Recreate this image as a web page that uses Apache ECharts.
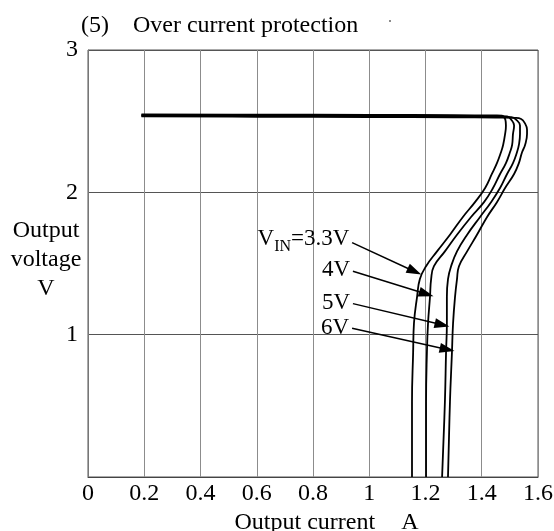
<!DOCTYPE html>
<html>
<head>
<meta charset="utf-8">
<script src="https://cdn.jsdelivr.net/npm/echarts@6/dist/echarts.min.js"></script>
<style>html,body{margin:0;padding:0;background:#fff}#c{width:554px;height:531px}</style>
</head>
<body>
<div id="c"></div>
<script>
const FONT = '"Liberation Serif","Times New Roman",serif';

// Output current (A) / output voltage (V) for each input voltage
const vin33Current = [0.19, 0.60, 1.00, 1.30, 1.45, 1.472, 1.484, 1.486, 1.483, 1.476, 1.468, 1.454, 1.436, 1.412, 1.376, 1.333, 1.287, 1.241, 1.202, 1.180, 1.170, 1.159, 1.156, 1.152, 1.152];
const vin33Voltage = [2.548, 2.546, 2.544, 2.542, 2.540, 2.538, 2.51, 2.47, 2.409, 2.333, 2.28, 2.205, 2.129, 2.03, 1.931, 1.827, 1.702, 1.585, 1.481, 1.391, 1.266, 1.08, 0.873, 0.529, 0];

const vin4Current = [0.19, 0.60, 1.00, 1.30, 1.45, 1.49, 1.505, 1.515, 1.511, 1.508, 1.500, 1.486, 1.465, 1.440, 1.408, 1.362, 1.312, 1.269, 1.230, 1.220, 1.216, 1.209, 1.205, 1.202, 1.202];
const vin4Voltage = [2.543, 2.541, 2.539, 2.537, 2.535, 2.533, 2.51, 2.47, 2.409, 2.333, 2.28, 2.205, 2.129, 2.03, 1.931, 1.827, 1.702, 1.585, 1.481, 1.391, 1.266, 1.08, 0.873, 0.529, 0];

const vin5Current = [0.19, 0.60, 1.00, 1.30, 1.45, 1.505, 1.525, 1.536, 1.536, 1.532, 1.525, 1.511, 1.490, 1.465, 1.433, 1.394, 1.348, 1.312, 1.291, 1.280, 1.276, 1.276, 1.273, 1.269, 1.259];
const vin5Voltage = [2.538, 2.536, 2.534, 2.532, 2.530, 2.528, 2.505, 2.47, 2.409, 2.333, 2.28, 2.205, 2.129, 2.03, 1.931, 1.827, 1.702, 1.585, 1.481, 1.391, 1.266, 1.08, 0.873, 0.529, 0];

const vin6Current = [0.19, 0.60, 1.00, 1.30, 1.45, 1.52, 1.54, 1.552, 1.561, 1.561, 1.554, 1.543, 1.532, 1.515, 1.483, 1.454, 1.419, 1.383, 1.348, 1.319, 1.312, 1.305, 1.298, 1.294, 1.287, 1.280];
const vin6Voltage = [2.533, 2.531, 2.529, 2.527, 2.525, 2.523, 2.515, 2.49, 2.44, 2.409, 2.333, 2.28, 2.205, 2.129, 2.03, 1.931, 1.827, 1.702, 1.585, 1.481, 1.391, 1.266, 1.08, 0.873, 0.529, 0];

// Annotation arrows (data units)
const arrowLabels = ['{v|V}{sub|IN}{v|=3.3V}', '4V', '5V', '6V'];
const arrowStartCurrent = [0.939, 0.942, 0.942, 0.939];
const arrowStartVoltage = [1.647, 1.446, 1.218, 1.045];
const arrowEndCurrent = [1.161, 1.203, 1.259, 1.277];
const arrowEndVoltage = [1.444, 1.286, 1.069, 0.896];

const zip = (xs, ys) => xs.map((x, i) => [x, ys[i]]);
const curves = [
  zip(vin33Current, vin33Voltage),
  zip(vin4Current, vin4Voltage),
  zip(vin5Current, vin5Voltage),
  zip(vin6Current, vin6Voltage)
];
const seriesNames = ['3.3V', '4V', '5V', '6V'];

const arrowData = arrowLabels.map((t, i) => [
  { coord: [arrowStartCurrent[i], arrowStartVoltage[i]], label: { formatter: t } },
  { coord: [arrowEndCurrent[i], arrowEndVoltage[i]] }
]);

const series = curves.map((d, i) => ({
  name: seriesNames[i],
  type: 'line',
  data: d,
  showSymbol: false,
  smooth: 0.45,
  lineStyle: { color: '#000', width: 1.8 },
  itemStyle: { color: '#000' },
  silent: true
}));
series[0].markLine = {
  silent: true,
  symbol: ['none', 'path://M5,0L10,15L0,15Z'],
  symbolSize: 15,
  symbolKeepAspect: true,
  lineStyle: { color: '#000', width: 1.5, type: 'solid' },
  itemStyle: { color: '#000' },
  label: {
    show: true,
    position: 'start',
    distance: 3,
    color: '#000',
    fontFamily: FONT,
    fontSize: 23,
    rich: {
      v: { fontFamily: FONT, fontSize: 23, color: '#000', lineHeight: 27, verticalAlign: 'top' },
      sub: { fontFamily: FONT, fontSize: 16, color: '#000', lineHeight: 27, verticalAlign: 'bottom' }
    }
  },
  emphasis: { disabled: true },
  data: arrowData
};

const chart = echarts.init(document.getElementById('c'), null, { renderer: 'canvas' });
chart.setOption({
  animation: false,
  backgroundColor: '#fff',
  title: {
    text: '{a|(5)}{b|Over current protection}',
    left: 76,
    top: 9,
    textStyle: {
      fontWeight: 'normal',
      rich: {
        a: { fontFamily: FONT, fontSize: 24, fontWeight: 'normal', color: '#000', padding: [0, 24, 0, 0] },
        b: { fontFamily: FONT, fontSize: 24, fontWeight: 'normal', color: '#000' }
      }
    }
  },
  grid: { left: 88, right: 16, top: 50, bottom: 54, outerBoundsMode: 'none', containLabel: false, show: true, borderColor: '#555', borderWidth: 1 },
  xAxis: {
    type: 'value',
    min: 0, max: 1.6, interval: 0.2,
    name: '{a|Output current}{b|A}',
    nameLocation: 'middle',
    nameGap: 33,
    nameTextStyle: {
      padding: [0, 0, 0, 27],
      rich: {
        a: { fontFamily: FONT, fontSize: 24, color: '#000' },
        b: { fontFamily: FONT, fontSize: 24, color: '#000', padding: [0, 0, 0, 26] }
      }
    },
    axisLine: { show: true, lineStyle: { color: '#444', width: 1 } },
    axisTick: { show: false },
    axisLabel: { color: '#000', fontFamily: FONT, fontSize: 24, margin: 5 },
    splitLine: { show: true, lineStyle: { color: '#8c8c8c', width: 1 } }
  },
  yAxis: {
    type: 'value',
    min: 0, max: 3, interval: 1,
    axisLine: { show: true, lineStyle: { color: '#777', width: 1 } },
    axisTick: { show: false },
    axisLabel: { color: '#000', fontFamily: FONT, fontSize: 24, margin: 10, showMinLabel: false },
    splitLine: { show: true, lineStyle: { color: '#555', width: 1 } }
  },
  graphic: [
    {
      type: 'text', left: 8, top: 216, silent: true,
      style: { text: 'Output\nvoltage\nV', fill: '#000', font: '24px ' + FONT, textAlign: 'center', lineHeight: 29, width: 76 }
    },
    { type: 'circle', shape: { cx: 390, cy: 21, r: 1 }, style: { fill: '#666' }, silent: true }
  ],
  series: series
});
</script>
</body>
</html>
